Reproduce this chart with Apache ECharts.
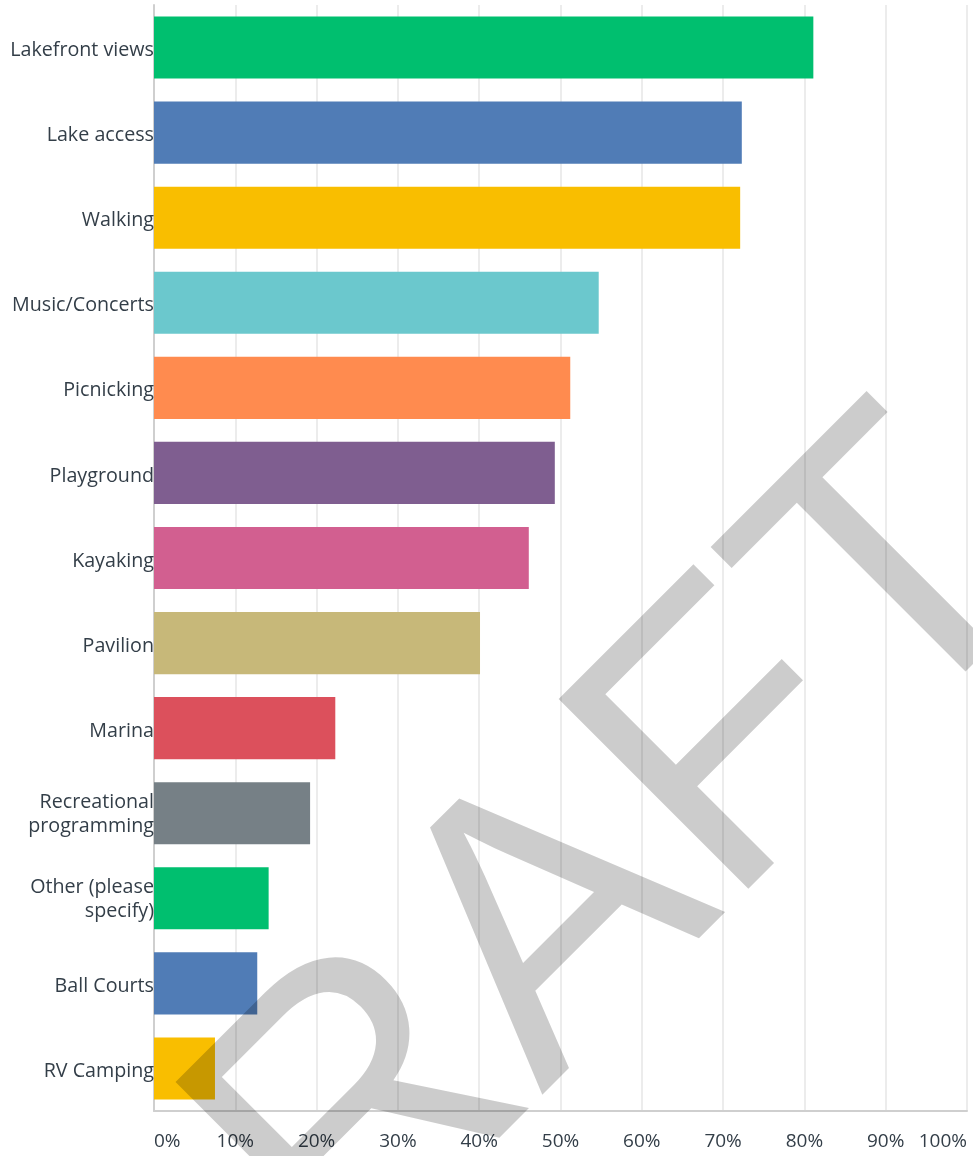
<!DOCTYPE html>
<html>
<head>
<meta charset="utf-8">
<script src="https://cdn.jsdelivr.net/npm/echarts@6/dist/echarts.min.js"></script>
<style>
html,body{margin:0;padding:0;background:#fff;}
#chart{width:973px;height:1156px;}
</style>
</head>
<body>
<div id="chart"></div>
<script>
const categories = ["Lakefront views","Lake access","Walking","Music/Concerts","Picnicking","Playground","Kayaking","Pavilion","Marina","Recreational\nprogramming","Other (please\nspecify)","Ball Courts","RV Camping"];
const values = [81.1, 72.3, 72.1, 54.7, 51.2, 49.3, 46.1, 40.1, 22.3, 19.2, 14.1, 12.7, 7.5];
const barColors = ["#00bf6f","#507cb6","#f9be00","#6bc8cd","#ff8b4f","#7f5e90","#d25f90","#c7b879","#dc505c","#768086","#00bf6f","#507cb6","#f9be00"];
const xTicks = [0,10,20,30,40,50,60,70,80,90,100];
const watermark = "DRAFT";

const chart = echarts.init(document.getElementById('chart'), null, {renderer:'canvas'});
const font = '"Open Sans", sans-serif';
const labStyle = {color: '#333e48', fontFamily: font, fontSize: 19.7, lineHeight: 27, align: 'right'};
chart.setOption({
  animation: false,
  grid: {left: 154, right: 6, top: 5, bottom: 45, containLabel: false},
  xAxis: {
    type: 'value', min: xTicks[0], max: xTicks[xTicks.length-1], interval: xTicks[1]-xTicks[0],
    axisLine: {show: true, lineStyle: {color: '#cfcfcf', width: 2}},
    axisTick: {show: false},
    splitLine: {show: true, lineStyle: {color: '#ececec', width: 2}},
    axisLabel: {formatter: '{value}%', color: '#333e48', fontFamily: font, fontSize: 19, margin: 21,
      alignMinLabel: 'left', alignMaxLabel: 'right'}
  },
  yAxis: {
    type: 'category', data: categories, inverse: true,
    axisLine: {show: true, lineStyle: {color: '#cfcfcf', width: 2}},
    axisTick: {show: false},
    splitLine: {show: false},
    axisLabel: {
      color: '#333e48', fontFamily: font, fontSize: 19.7, margin: 0, lineHeight: 27, align: 'right',
      formatter: function (v) {
        const parts = v.split('\n');
        return parts.map((s, i) => (i === 0 ? '{a|' : '{b|') + s + '}').join('\n');
      },
      rich: {
        a: Object.assign({padding: [6, 0, 0, 0]}, labStyle),
        b: Object.assign({}, labStyle)
      }
    }
  },
  series: [{
    type: 'bar',
    data: values.map((v,i)=>({value:v, itemStyle:{color: barColors[i]}})),
    barCategoryGap: '27%',
    z: 3
  }],
  graphic: [{
    type: 'text', x: 527, y: 958, rotation: Math.PI/4, z: 100, silent: true,
    style: {text: watermark, font: '390px "Liberation Sans"', fill: 'rgba(0,0,0,0.2)', align: 'center', verticalAlign: 'middle'}
  }]
});
</script>
</body>
</html>
